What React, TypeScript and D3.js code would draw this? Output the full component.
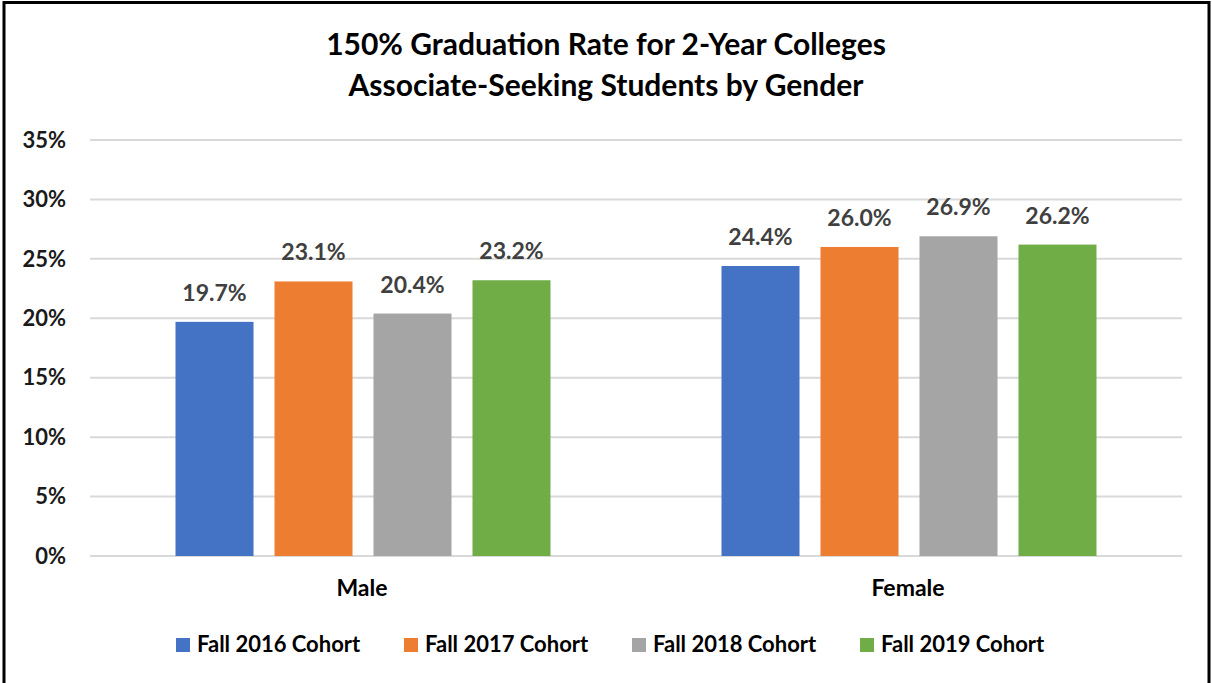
import React from "react";
import * as d3 from "d3";

const categories = ["Male", "Female"];
const seriesNames = ["Fall 2016 Cohort", "Fall 2017 Cohort", "Fall 2018 Cohort", "Fall 2019 Cohort"];
const seriesColors = ["#4472C4", "#ED7D31", "#A5A5A5", "#70AD47"];
const fall2016 = [19.7, 24.4];
const fall2017 = [23.1, 26.0];
const fall2018 = [20.4, 26.9];
const fall2019 = [23.2, 26.2];
const seriesValues = [fall2016, fall2017, fall2018, fall2019];
const yTicks = [0, 5, 10, 15, 20, 25, 30, 35];
const titleLines = ["150% Graduation Rate for 2-Year Colleges", "Associate-Seeking Students by Gender"];

const W = 1212;
const H = 683;
const FONT = "Lato, 'Open Sans', sans-serif";

export default function App() {
  const plotLeft = 90;
  const plotRight = 1182;
  const y = d3.scaleLinear().domain([0, 35]).range([556, 140]);
  const x0 = d3.scaleBand<string>().domain(categories).range([plotLeft, plotRight]).padding(0);
  const groupW = 375;
  const x1 = d3
    .scaleBand<string>()
    .domain(seriesNames)
    .range([0, groupW])
    .paddingInner(0.212)
    .paddingOuter(0);

  return (
    <svg
      width={W}
      height={H}
      style={{ position: "absolute", left: 0, top: 0, background: "#fff" }}
      fontFamily={FONT}
    >
      <rect x={0} y={0} width={W} height={H} fill="#fff" />
      <rect x={4} y={2.5} width={1205} height={720} fill="none" stroke="#000" strokeWidth={3} />
      {titleLines.map((t, i) => (
        <text
          key={t}
          x={606}
          y={55 + i * 41}
          textAnchor="middle"
          fontSize={30}
          fontWeight="bold"
          fill="#000"
        >
          {t}
        </text>
      ))}
      {yTicks.map((t) => (
        <g key={t}>
          <line x1={plotLeft} x2={plotRight} y1={y(t)} y2={y(t)} stroke="#d9d9d9" strokeWidth={2} />
          <text
            x={66}
            y={y(t)}
            dy="0.35em"
            textAnchor="end"
            fontSize={22}
            fontWeight="bold"
            fill="#1a1a1a"
          >
            {t}%
          </text>
        </g>
      ))}
      {categories.map((c, ci) => {
        const gx = (x0(c) as number) + (x0.bandwidth() - groupW) / 2;
        return (
          <g key={c}>
            {seriesNames.map((s, si) => {
              const v = seriesValues[si][ci];
              const bx = gx + (x1(s) as number);
              return (
                <g key={s}>
                  <rect
                    x={bx}
                    y={y(v)}
                    width={x1.bandwidth()}
                    height={y(0) - y(v)}
                    fill={seriesColors[si]}
                  />
                  <text
                    x={bx + x1.bandwidth() / 2}
                    y={y(v) - 21}
                    textAnchor="middle"
                    fontSize={23}
                    fontWeight="bold"
                    fill="#404040"
                  >
                    {v.toFixed(1)}%
                  </text>
                </g>
              );
            })}
            <text
              x={(x0(c) as number) + x0.bandwidth() / 2 - 1}
              y={596}
              textAnchor="middle"
              fontSize={23}
              fontWeight="bold"
              fill="#000"
            >
              {c}
            </text>
          </g>
        );
      })}
      {seriesNames.map((s, i) => {
        const lx = 176 + i * 228;
        return (
          <g key={s}>
            <rect x={lx} y={638} width={14} height={14} fill={seriesColors[i]} />
            <text x={lx + 21} y={652} fontSize={22} fontWeight="bold" fill="#000">
              {s}
            </text>
          </g>
        );
      })}
    </svg>
  );
}
